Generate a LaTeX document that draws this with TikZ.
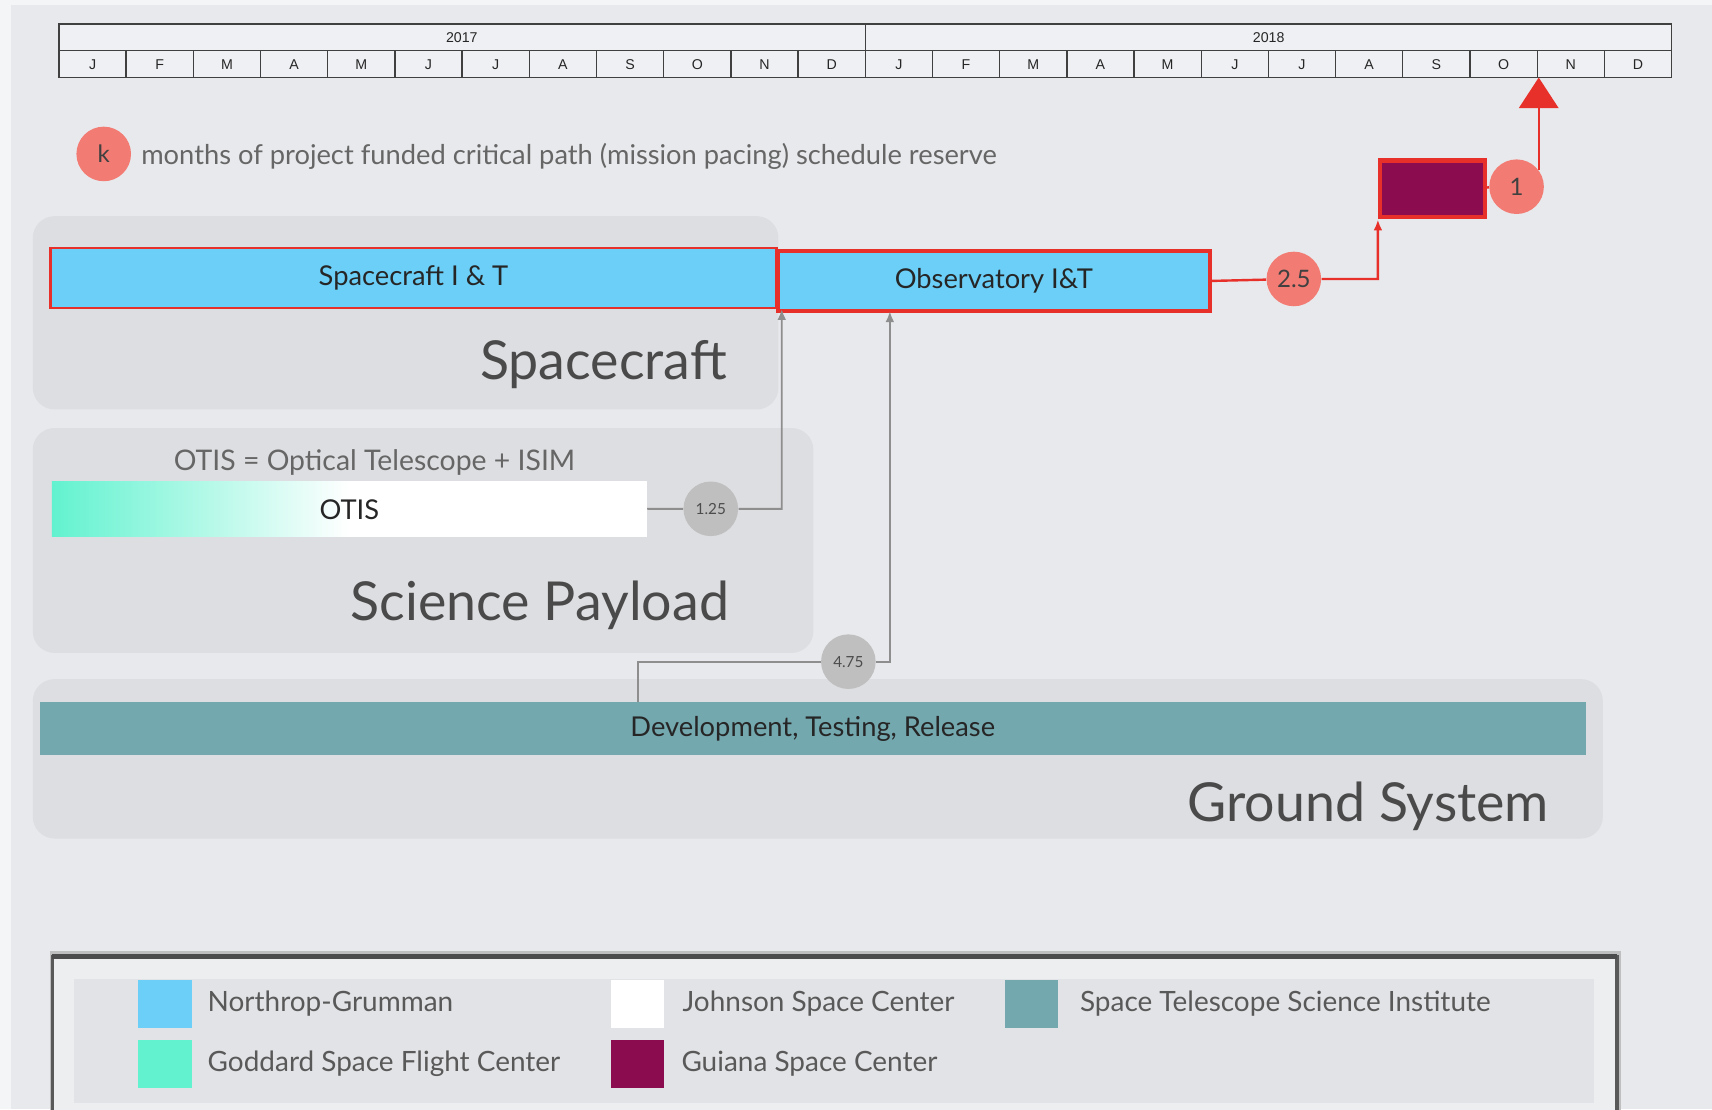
\documentclass[tikz,border=0pt]{standalone}
\usepackage{fontspec}
\setmainfont{Lato}
\newfontfamily\gridfont{Liberation Sans}
\usetikzlibrary{calc,positioning,arrows.meta}

\definecolor{slide}{HTML}{E8E9EC}
\definecolor{slideedge}{HTML}{F4F5F7}
\definecolor{groupbg}{HTML}{DDDEE1}
\definecolor{ngblue}{HTML}{6BCFF7}
\definecolor{critred}{HTML}{E8302A}
\definecolor{reservered}{HTML}{F27C74}
\definecolor{gsfc}{HTML}{62F2CF}
\definecolor{guiana}{HTML}{8C0D4F}
\definecolor{stsci}{HTML}{74A8AF}
\definecolor{slackgray}{HTML}{BFBFBF}
\definecolor{linkgray}{HTML}{8E8E8E}
\definecolor{labelgray}{HTML}{4A4A4A}
\definecolor{legendbg}{HTML}{EDEEF0}
\definecolor{legendpanel}{HTML}{E2E3E6}

\pgfdeclarehorizontalshading{otisfade}{100bp}{color(0bp)=(gsfc); color(25bp)=(gsfc); color(50bp)=(white); color(100bp)=(white)}

\begin{document}
\begin{tikzpicture}[x=0.5pt,y=-0.5pt,
  every node/.style={inner sep=0pt},
  grid/.style={draw=black!75, line width=0.6pt},
  month/.style={font=\gridfont\fontsize{6.5}{7}\selectfont, text=black!85},
  groupbox/.style={fill=groupbg, rounded corners=10pt},
  grouplabel/.style={font=\fontsize{24.6}{25}\selectfont, text=labelgray},
  task/.style={anchor=north west, font=\fontsize{12.5}{13}\selectfont, text=black!85},
  critdot/.style={circle, fill=reservered, minimum size=25pt, font=\fontsize{11}{11}\selectfont, text=black!75},
  slackdot/.style={circle, fill=slackgray, minimum size=25pt, font=\fontsize{7}{7}\selectfont, text=black!70},
  critline/.style={draw=critred, line width=1.1pt},
  slackline/.style={draw=linkgray, line width=0.9pt},
  swatch/.style={anchor=north west, minimum width=24.5pt, minimum height=22pt},
  legtext/.style={font=\fontsize{12.8}{13}\selectfont, text=black!65}
]

\useasboundingbox (0,0) rectangle (1568,1016);
\clip (0,0) rectangle (1568,1016);
\fill[slideedge] (0,0) rectangle (1568,1016);
\fill[slide] (10,5) rectangle (1568,1016);

% timeline
\fill[slideedge!60!slide] (54,22) rectangle (1531,71);
\draw[grid] (54,22) rectangle (1531,71);
\draw[grid] (54,46) -- (1531,46);
\draw[grid] (793,22) -- (793,46);
\foreach \i in {1,...,23}
  \draw[grid] ({54+\i*61.54},46) -- ({54+\i*61.54},71);
\node[month] (y2017) at (423,34) {2017};
\node[month] (y2018) at (1162,34) {2018};
\foreach \m [count=\i from 0] in {J,F,M,A,M,J,J,A,S,O,N,D,J,F,M,A,M,J,J,A,S,O,N,D}
  \node[month] (m\i) at ({54+(\i+0.5)*61.54},59) {\m};
\coordinate (tlON) at ({54+22*61.54},71);

% key
\node[critdot] (key) at (95,141) {k};
\node[anchor=base west, font=\fontsize{12.5}{13}\selectfont, text=black!60] (keytext) at (129,151)
  {months of project funded critical path (mission pacing) schedule reserve};

% groups
\fill[groupbox] (30,198) rectangle (713,375);
\fill[groupbox] (30,392) rectangle (745,598);
\fill[groupbox] (30,622) rectangle (1468,768);

\node[grouplabel, anchor=base east] (sclabel) at (666,348) {Spacecraft};
\node[grouplabel, anchor=base east] (splabel) at (668,568) {Science Payload};
\node[grouplabel, anchor=base east] (gslabel) at (1419,752) {Ground System};

% bars
\node[task, fill=ngblue, draw=critred, line width=1.2pt, minimum width=332.5pt, minimum height=27.5pt] (scit) at (45,226) {Spacecraft I \& T};
\node[task, fill=ngblue, draw=critred, line width=1.8pt, minimum width=197.5pt, minimum height=27.5pt] (obs) at (711,228) {Observatory I\&T};
\node[task, fill=guiana, draw=critred, line width=2pt, minimum width=48pt, minimum height=26pt] (launch) at (1262,145) {};
\node[anchor=base, font=\fontsize{13}{13}\selectfont, text=black!60] (otisdef) at (343,431) {OTIS = Optical Telescope + ISIM};
\node[task, shading=otisfade, minimum width=272.5pt, minimum height=25pt] (otis) at (47,441) {OTIS};
\node[task, fill=stsci, minimum width=708pt, minimum height=24pt] (dev) at (36,643) {Development, Testing, Release};

% reserves
\node[critdot] (r25) at (1185,255.5) {2.5};
\node[critdot] (r1) at (1389,171) {1};
\node[slackdot] (r125) at (651,466) {1.25};
\node[slackdot] (r475) at (777,606) {4.75};

\coordinate (scin) at (716,283);
\coordinate (obsin) at (815,285);
\coordinate (gsout) at (584,643);

% critical path
\draw[critline, -{Latex[length=5pt,width=4pt]}] (obs.east) -- (r25) -- (r25 -| launch.south west) -- (launch.south west);
\draw[critline] (launch) -- (r1);
\draw[critline, -{Triangle[width=18pt,length=14pt]}] (r1.37) -- (r1.37 |- tlON);

% slack paths
\draw[slackline, -{Latex[length=5pt,width=4pt]}] (otis) -- (r125) -- (r125 -| scin) -- (scin);
\draw[slackline, -{Latex[length=5pt,width=4pt]}] (gsout) -- (gsout |- r475) -- (r475) -- (r475 -| obsin) -- (obsin);

% legend
\fill[black!25] (46,871) rectangle (1485,1030);
\draw[draw=black!65, line width=1.5pt, fill=legendbg] (48,876) rectangle (1481,1030);
\draw[draw=black!70, line width=2.5pt] (48,876) -- (1481,876);
\fill[legendpanel] (68,897) rectangle (1460,1010);
\node[swatch, fill=ngblue] (swng) at (126,897) {};
\node[swatch, fill=gsfc] (swgsfc) at (126,952) {};
\node[swatch, fill=white] (swjsc) at (559,897) {};
\node[swatch, fill=guiana] (swcsg) at (559,952) {};
\node[swatch, fill=stsci] (swstsci) at (920,897) {};
\node[legtext, right=7pt of swng] (lng) {Northrop-Grumman};
\node[legtext, right=7pt of swgsfc] (lgsfc) {Goddard Space Flight Center};
\node[legtext, right=8pt of swjsc] (ljsc) {Johnson Space Center};
\node[legtext, right=7.5pt of swcsg] (lcsg) {Guiana Space Center};
\node[legtext, right=9.5pt of swstsci] (lstsci) {Space Telescope Science Institute};

\end{tikzpicture}
\end{document}
